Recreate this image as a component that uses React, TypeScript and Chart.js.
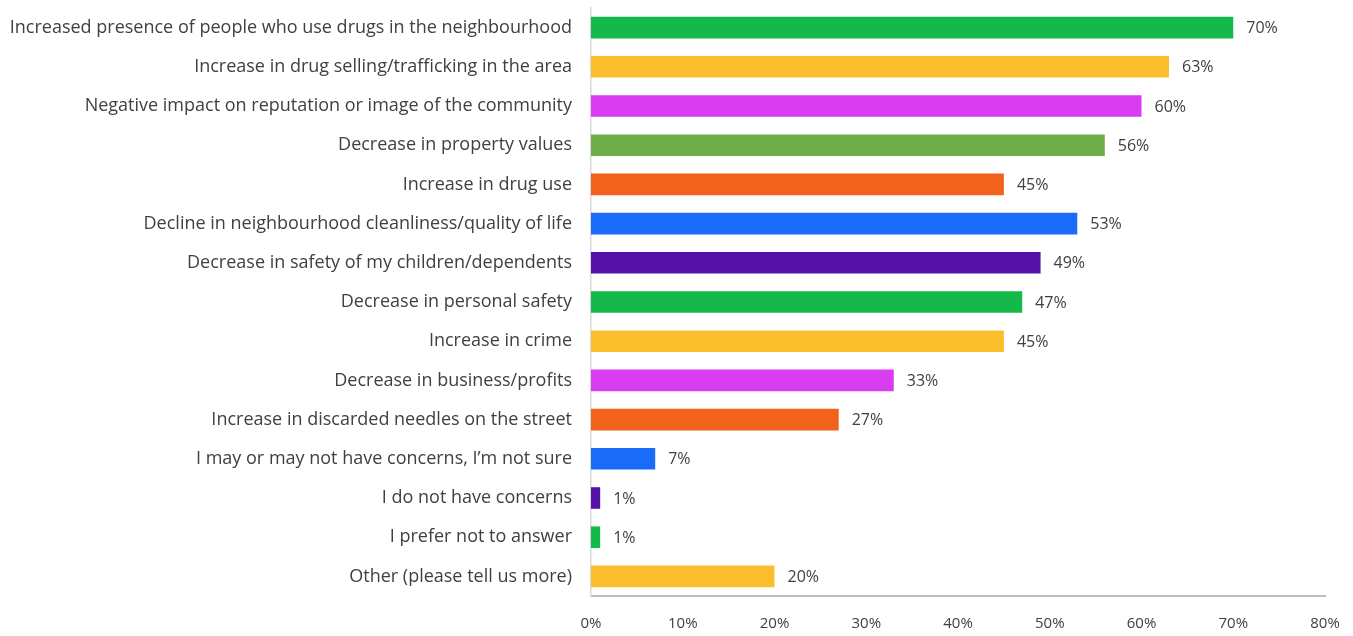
import React, { useEffect, useRef } from "react";
import { Chart, registerables } from "chart.js";

Chart.register(...registerables);

const categories = [
  "Increased presence of people who use drugs in the neighbourhood",
  "Increase in drug selling/trafficking in the area",
  "Negative impact on reputation or image of the community",
  "Decrease in property values",
  "Increase in drug use",
  "Decline in neighbourhood cleanliness/quality of life",
  "Decrease in safety of my children/dependents",
  "Decrease in personal safety",
  "Increase in crime",
  "Decrease in business/profits",
  "Increase in discarded needles on the street",
  "I may or may not have concerns, I\u2019m not sure",
  "I do not have concerns",
  "I prefer not to answer",
  "Other (please tell us more)",
];

const values = [70, 63, 60, 56, 45, 53, 49, 47, 45, 33, 27, 7, 1, 1, 20];

const barColors = [
  "#13B94B",
  "#FBBF2D",
  "#D83DF2",
  "#6FAD48",
  "#F2621B",
  "#1A6BF7",
  "#5510A8",
  "#13B94B",
  "#FBBF2D",
  "#D83DF2",
  "#F2621B",
  "#1A6BF7",
  "#5510A8",
  "#13B94B",
  "#FBBF2D",
];

const FONT = "'Open Sans', 'Liberation Sans', sans-serif";
const TEXT = "#404040";

const valueLabels = {
  id: "valueLabels",
  afterDatasetsDraw(chart: any) {
    const ctx = chart.ctx;
    const meta = chart.getDatasetMeta(0);
    ctx.save();
    ctx.font = `16px ${FONT}`;
    ctx.fillStyle = TEXT;
    ctx.textAlign = "left";
    ctx.textBaseline = "middle";
    meta.data.forEach((bar: any, i: number) => {
      ctx.fillText(`${values[i]}%`, bar.x + 13, bar.y + 1);
    });
    ctx.restore();
  },
};

export default function App() {
  const ref = useRef<HTMLCanvasElement | null>(null);

  useEffect(() => {
    document.body.style.margin = "0";
    const canvas = ref.current;
    if (!canvas) return;
    const chart = new Chart(canvas, {
      type: "bar",
      data: {
        labels: categories,
        datasets: [
          {
            data: values,
            backgroundColor: barColors,
            borderWidth: 0,
            barPercentage: 0.55,
            categoryPercentage: 1,
          },
        ],
      },
      options: {
        indexAxis: "y",
        animation: false,
        responsive: false,
        maintainAspectRatio: false,
        layout: { padding: { top: 8, right: 28, bottom: 0, left: 0 } },
        plugins: {
          legend: { display: false },
          tooltip: { enabled: false },
        },
        scales: {
          x: {
            min: 0,
            max: 80,
            grid: { display: false, drawTicks: false },
            border: { display: true, color: "#BFBFBF", width: 2 },
            ticks: {
              stepSize: 10,
              padding: 19,
              color: TEXT,
              font: { family: FONT, size: 15 },
              callback: (v: any) => `${v}%`,
            },
            afterFit: (scale: any) => {
              scale.height = 40;
              scale.paddingLeft = 0;
              scale.paddingRight = 0;
            },
          },
          y: {
            grid: { display: false, drawTicks: false },
            border: { display: true, color: "#D9D9D9", width: 1.5 },
            ticks: {
              padding: 19,
              color: TEXT,
              font: { family: FONT, size: 18 },
              autoSkip: false,
            },
            afterFit: (scale: any) => {
              scale.width = 591;
              scale.paddingTop = 0;
              scale.paddingBottom = 0;
            },
          },
        },
      },
      plugins: [valueLabels],
    });
    return () => chart.destroy();
  }, []);

  return (
    <div style={{ position: "fixed", left: 0, top: 0, width: 1353, height: 636, background: "#fff" }}>
      <canvas ref={ref} width={1353} height={636} style={{ width: 1353, height: 636 }} />
    </div>
  );
}
